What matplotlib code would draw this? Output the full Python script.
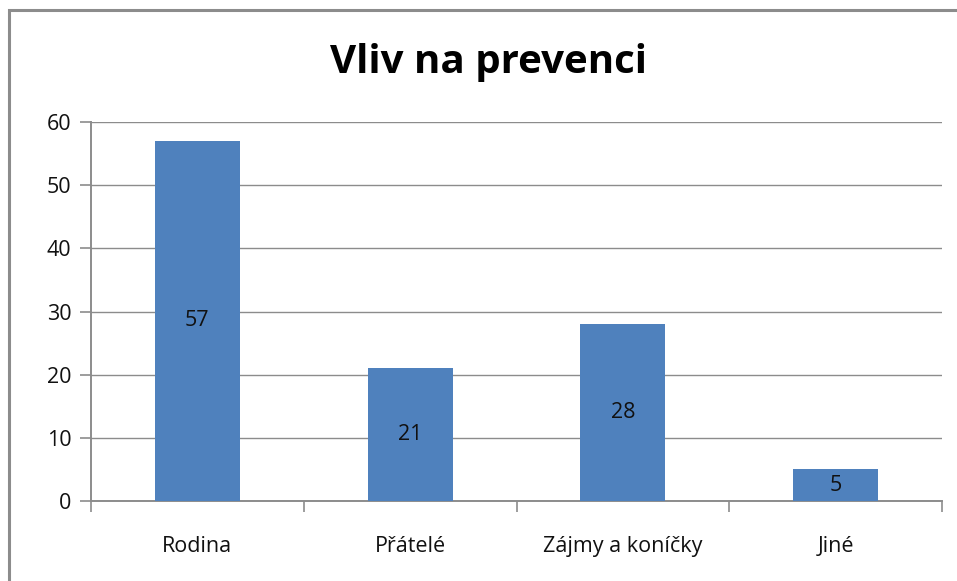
import matplotlib
matplotlib.use("Agg")
import matplotlib.pyplot as plt
from matplotlib.patches import Rectangle
from matplotlib.ticker import FixedLocator, NullFormatter

categories = ["Rodina", "Přátelé", "Zájmy a koníčky", "Jiné"]
values = [57, 21, 28, 5]
yticks = [0, 10, 20, 30, 40, 50, 60]
title = "Vliv na prevenci"

W, H = 957, 581
fig = plt.figure(figsize=(W / 100, H / 100), dpi=100)
fig.patch.set_facecolor("white")

# outer chart border
fig.patches.append(Rectangle((9 / W, -0.05), 1.2, 1 - 10 / H + 0.05,
                             transform=fig.transFigure, fill=False,
                             edgecolor="#8c8c8c", linewidth=2.2, zorder=0))

left, right, top, bottom = 91, 942, 122, 501
ax = fig.add_axes([left / W, 1 - bottom / H, (right - left) / W, (bottom - top) / H])

grid_c = "#8c8c8c"
fs = 15.5
x = list(range(len(categories)))
bars = ax.bar(x, values, width=0.40, color="#4f81bd", zorder=3)
for b, v in zip(bars, values):
    ax.text(b.get_x() + b.get_width() / 2, v / 2, str(v), ha="center", va="center",
            fontsize=fs, family="Open Sans", color="#111111", zorder=4)

ax.set_xlim(-0.5, len(categories) - 0.5)
ax.set_ylim(0, 60)
ax.set_yticks(yticks)
ax.set_yticklabels([str(t) for t in yticks], fontsize=fs, family="Open Sans", color="#111111")
ax.yaxis.grid(True, color=grid_c, linewidth=1.0, zorder=0)
ax.set_axisbelow(True)

ax.xaxis.set_major_locator(FixedLocator([i - 0.5 for i in range(len(categories) + 1)]))
ax.xaxis.set_major_formatter(NullFormatter())
ax.xaxis.set_minor_locator(FixedLocator(x))
ax.set_xticklabels(categories, minor=True, fontsize=fs, family="Open Sans", color="#111111")
ax.tick_params(axis="x", which="minor", length=0, pad=25)
ax.tick_params(axis="x", which="major", length=8, color=grid_c, width=1.2, direction="out")
ax.tick_params(axis="y", length=8, color=grid_c, width=1.2, direction="out", pad=6)

for s in ["top", "right"]:
    ax.spines[s].set_visible(False)
for s in ["left", "bottom"]:
    ax.spines[s].set_color(grid_c)
    ax.spines[s].set_linewidth(1.4)

fig.text(489 / W, 1 - 62 / H, title, ha="center", va="center",
         fontsize=29, fontweight="bold", family="Open Sans", color="black")

fig.savefig("out.png", dpi=100, facecolor="white")
